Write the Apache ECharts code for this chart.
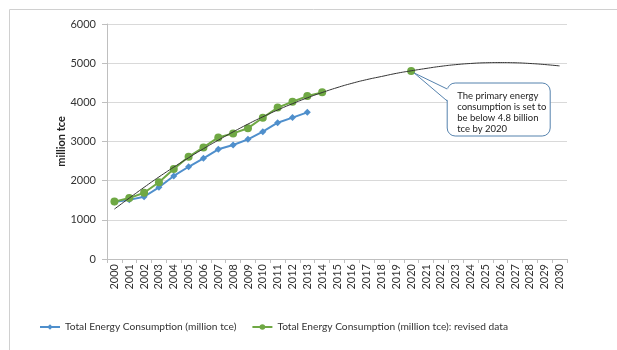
<!DOCTYPE html>
<html><head><meta charset="utf-8">
<script src="https://cdn.jsdelivr.net/npm/echarts@6/dist/echarts.min.js"></script>
<style>html,body{margin:0;padding:0;background:#fff}#c{width:617px;height:350px}</style>
</head><body><div id="c"></div>
<script>
const years = ['2000','2001','2002','2003','2004','2005','2006','2007','2008','2009','2010','2011','2012','2013','2014','2015','2016','2017','2018','2019','2020','2021','2022','2023','2024','2025','2026','2027','2028','2029','2030'];
const originalData = [1455,1510,1590,1830,2120,2355,2570,2800,2910,3055,3250,3480,3610,3745];
const revisedData = [1465,1555,1690,1960,2300,2610,2850,3105,3206,3340,3606,3865,4015,4160,4255,null,null,null,null,null,4800];
const trendData = [1275,1555,1830,2095,2345,2585,2815,3035,3245,3445,3630,3805,3965,4115,4250,4375,4485,4580,4660,4740,4805,4865,4920,4962,4992,5010,5015,5010,4992,4965,4930];
const yTicks = {min:0, max:6000, interval:1000};
const seriesNames = ['Total Energy Consumption (million tce)','Total Energy Consumption (million tce): revised data'];
const calloutLines = ['The primary energy','consumption is set to','be below 4.8 billion','tce by 2020'];
const calloutAt = ['2020', 4800];

const FONT = 'Lato';
const chart = echarts.init(document.getElementById('c'));
chart.setOption({
  animation:false,
  textStyle:{fontFamily:FONT},
  grid:{left:107,right:50,top:24,bottom:91},
  legend:{
    data:seriesNames, left:34, top:317, itemWidth:20, itemHeight:7, itemGap:15,
    textStyle:{fontFamily:FONT,fontSize:10.2,color:'#333'}
  },
  xAxis:{
    type:'category', data:years, boundaryGap:true,
    axisLine:{lineStyle:{color:'#bfbfbf'}},
    axisTick:{show:true,length:4,lineStyle:{color:'#bfbfbf'},interval:0},
    axisLabel:{interval:0,rotate:90,fontSize:11,color:'#333',fontFamily:FONT,margin:5}
  },
  yAxis:{
    type:'value', min:yTicks.min, max:yTicks.max, interval:yTicks.interval,
    name:'million tce', nameLocation:'middle', nameGap:40, nameRotate:90, nameMoveOverlap:false,
    nameTextStyle:{fontWeight:'bold',fontSize:11,color:'#222',fontFamily:FONT},
    axisLine:{show:true,lineStyle:{color:'#bfbfbf'}},
    axisTick:{show:true,length:5,lineStyle:{color:'#bfbfbf'}},
    axisLabel:{fontSize:11,color:'#333',fontFamily:FONT,margin:11,formatter:v=>String(v)},
    splitLine:{lineStyle:{color:'#d9d9d9'}}
  },
  series:[
    {name:seriesNames[0],type:'line',data:originalData,symbol:'diamond',symbolSize:7,
      lineStyle:{color:'#4f8fcc',width:2},itemStyle:{color:'#4f8fcc'},z:3},
    {name:seriesNames[1],type:'line',data:revisedData,symbol:'circle',symbolSize:8,connectNulls:false,
      lineStyle:{color:'#6fa844',width:2},itemStyle:{color:'#6fa844'},z:4},
    {name:'trend',type:'line',data:trendData,smooth:true,showSymbol:false,symbol:'none',
      lineStyle:{color:'#333',width:1},z:5,silent:true}
  ]
});

const p = chart.convertToPixel({xAxisIndex:0,yAxisIndex:0}, calloutAt);
const bx = p[0]+36, by = p[1]+12, bw = 103, bh = 53;
const blue = '#5582ad';
chart.setOption({graphic:[
  {type:'rect',left:7,top:7,shape:{x:0,y:0,width:700,height:400},style:{fill:'none',stroke:'#d0d0d0',lineWidth:1},silent:true},
  {type:'rect',shape:{x:bx,y:by,width:bw,height:bh,r:8},style:{fill:'#fff',stroke:blue,lineWidth:1},z:100},
  {type:'polygon',shape:{points:[[p[0]+3,p[1]+2],[bx+1.5,by+6],[bx+1.5,by+18]]},style:{fill:'#fff'},z:101},
  {type:'polyline',shape:{points:[[bx,by+6],[p[0]+3,p[1]+2],[bx,by+18]]},style:{fill:'none',stroke:blue,lineWidth:1},z:102},
  {type:'text',x:bx+10,y:by+7,style:{text:calloutLines.join('\n'),fontFamily:FONT,fontSize:9.5,lineHeight:11,fill:'#222'},z:103}
]});
</script></body></html>
